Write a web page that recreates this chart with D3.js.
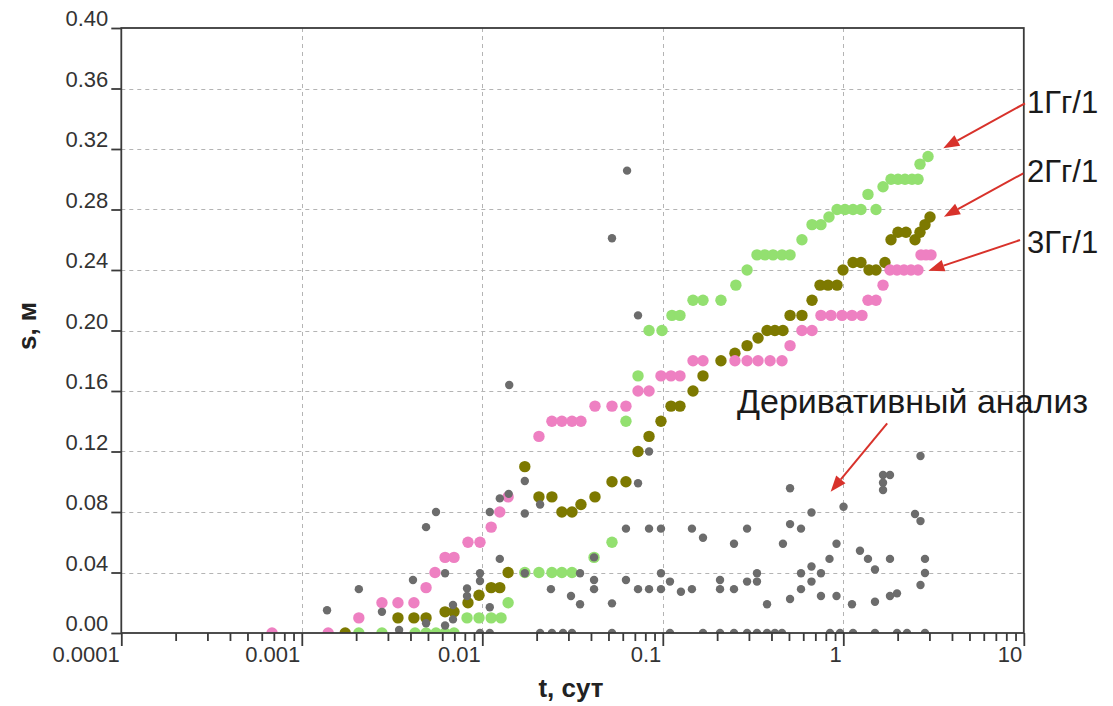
<!DOCTYPE html>
<html>
<head>
<meta charset="utf-8">
<script src="https://cdn.jsdelivr.net/npm/d3@7"></script>
<style>
  body { margin: 0; background: #fff; }
  svg text { font-family: "Liberation Sans", Arial, sans-serif; }
</style>
</head>
<body>
<svg id="chart" width="1113" height="706"></svg>
<script>
// Axis ticks
const xTickValues = [1e-4, 1e-3, 1e-2, 1e-1, 1, 10];
const xTickLabels = ["0.0001", "0.001", "0.01", "0.1", "1", "10"];
const yTickValues = [0, 0.04, 0.08, 0.12, 0.16, 0.20, 0.24, 0.28, 0.32, 0.36, 0.40];

// Drawdown s (m) vs time t (days), pairs [t, s]
const well1 = [ // 1Гг/1
  [0.00207,0],[0.00278,0],[0.00424,0],[0.00488,0],[0.00554,0],[0.00622,0],[0.00697,0],
  [0.00823,0.01],[0.00959,0.01],[0.0112,0.01],[0.0127,0.01],[0.0139,0.02],
  [0.0172,0.04],[0.0206,0.04],[0.0243,0.04],[0.0276,0.04],[0.0314,0.04],
  [0.0416,0.05],[0.0523,0.06],[0.0625,0.14],[0.0729,0.17],[0.0839,0.20],[0.099,0.20],
  [0.1124,0.21],[0.1245,0.21],[0.147,0.22],[0.167,0.22],[0.210,0.22],[0.254,0.23],
  [0.293,0.24],[0.3325,0.25],[0.368,0.25],[0.408,0.25],[0.4575,0.25],[0.507,0.25],
  [0.590,0.26],[0.671,0.27],[0.752,0.27],[0.833,0.275],[0.923,0.28],[1.022,0.28],
  [1.132,0.28],[1.253,0.28],[1.370,0.29],[1.518,0.28],[1.660,0.295],[1.838,0.30],
  [2.009,0.30],[2.197,0.30],[2.402,0.30],[2.594,0.30],[2.660,0.31],[2.947,0.315]
];
const well2 = [ // 2Гг/1
  [0.00174,0],[0.00341,0.01],[0.00418,0.01],[0.00488,0.01],[0.00622,0.014],[0.00697,0.014],
  [0.00833,0.02],[0.00959,0.025],[0.0112,0.03],[0.0125,0.03],[0.0139,0.04],[0.0172,0.11],
  [0.0206,0.09],[0.0243,0.09],[0.0276,0.08],[0.0314,0.08],[0.0352,0.085],[0.0421,0.09],
  [0.0523,0.10],[0.0625,0.10],[0.0729,0.12],[0.0839,0.13],[0.0977,0.14],[0.111,0.15],
  [0.1245,0.15],[0.147,0.16],[0.167,0.17],[0.210,0.18],[0.251,0.185],[0.293,0.19],
  [0.337,0.195],[0.378,0.20],[0.418,0.20],[0.463,0.20],[0.507,0.21],[0.590,0.21],
  [0.671,0.22],[0.743,0.23],[0.823,0.23],[0.923,0.23],[0.996,0.24],[1.132,0.245],
  [1.253,0.245],[1.388,0.24],[1.518,0.24],[1.702,0.245],[1.838,0.26],[2.009,0.265],
  [2.226,0.265],[2.496,0.26],[2.660,0.265],[2.835,0.27],[3.023,0.275]
];
const well3 = [ // 3Гг/1
  [0.000684,0],[0.0014,0],[0.00207,0.01],[0.00278,0.02],[0.00341,0.02],[0.00418,0.02],
  [0.00488,0.03],[0.00547,0.04],[0.00622,0.05],[0.00697,0.05],[0.00833,0.06],[0.00971,0.06],
  [0.0112,0.07],[0.0125,0.08],[0.0139,0.09],[0.0206,0.13],[0.0243,0.14],[0.0276,0.14],
  [0.0314,0.14],[0.0352,0.14],[0.0421,0.15],[0.0523,0.15],[0.0625,0.15],[0.0729,0.16],
  [0.0839,0.16],[0.0977,0.17],[0.111,0.17],[0.1245,0.17],[0.147,0.18],[0.167,0.18],
  [0.251,0.18],[0.293,0.18],[0.337,0.18],[0.393,0.18],[0.4575,0.18],[0.507,0.19],
  [0.590,0.20],[0.671,0.20],[0.752,0.21],[0.855,0.21],[0.984,0.21],[1.117,0.21],
  [1.269,0.21],[1.370,0.22],[1.518,0.22],[1.660,0.23],[1.814,0.24],[1.984,0.24],
  [2.169,0.24],[2.372,0.24],[2.594,0.24],[2.695,0.25],[2.872,0.25],[3.062,0.25]
];
const derivative = [ // Деривативный анализ
  [0.00138,0.015],[0.00207,0.029],[0.00278,0.014],[0.00346,0.002],[0.00413,0.035],
  [0.00488,0.070],[0.00554,0.080],[0.00488,0.0064],[0.00622,0.0395],[0.00622,0.005],
  [0.00688,0.0185],[0.00688,0.009],[0.00823,0.0295],[0.00823,0.0245],[0.00971,0.0395],
  [0.00971,0.0344],[0.0110,0.017],[0.0110,0.080],[0.0125,0.089],[0.0125,0.049],
  [0.0140,0.092],[0.0141,0.164],[0.0172,0.1005],[0.0172,0.079],[0.0209,0.085],
  [0.0172,0.0395],[0.0240,0.029],[0.0310,0.0245],[0.0348,0.019],[0.0348,0.0395],
  [0.0416,0.050],[0.0416,0.035],[0.0416,0.029],[0.0523,0.0196],[0.0625,0.069],
  [0.0625,0.035],[0.0729,0.099],[0.0729,0.029],[0.0839,0.12],[0.0839,0.069],
  [0.0839,0.029],[0.0977,0.069],[0.0977,0.0395],[0.0977,0.029],[0.1096,0.034],
  [0.126,0.0273],[0.145,0.069],[0.145,0.029],[0.167,0.063],[0.2075,0.035],
  [0.2075,0.029],[0.248,0.059],[0.248,0.029],[0.293,0.069],[0.293,0.034],
  [0.3325,0.0395],[0.3325,0.034],[0.378,0.019],[0.463,0.059],[0.507,0.0957],
  [0.507,0.072],[0.507,0.0225],[0.583,0.069],[0.583,0.0395],[0.583,0.029],
  [0.6665,0.0797],[0.6665,0.044],[0.6665,0.034],[0.752,0.0395],[0.752,0.0245],
  [0.8385,0.049],[0.917,0.059],[0.917,0.0245],[1.003,0.0835],[1.117,0.019],
  [1.237,0.0544],[1.370,0.049],[1.498,0.042],[1.498,0.0207],[1.660,0.1045],
  [1.814,0.1045],[1.660,0.0994],[1.660,0.0945],[1.814,0.049],[1.814,0.0245],
  [1.984,0.0262],[2.496,0.0787],[2.677,0.074],[2.677,0.117],[2.835,0.049],
  [2.835,0.0397],[2.677,0.0317],[0.0523,0.261],[0.0634,0.3057],[0.0729,0.21],
  [0.00971,0],[0.0110,0],[0.0209,0],[0.0243,0],[0.0280,0],[0.0314,0],[0.0523,0],
  [0.1096,0],[0.167,0],[0.2075,0],[0.248,0],[0.293,0],[0.3325,0],[0.378,0],
  [0.418,0],[0.4575,0],[0.844,0],[0.959,0],[1.132,0],[1.498,0],[1.984,0],
  [2.254,0],[2.835,0]
];

// Callouts: arrow tip and tail in data units, label text
const callouts = [
  { text: "1Гг/1", tip: [3.58, 0.3205], tail: [10.15, 0.3502], lx: 1027, ly: 113 },
  { text: "2Гг/1", tip: [3.61, 0.2752], tail: [9.93, 0.3039],  lx: 1027, ly: 182 },
  { text: "3Гг/1", tip: [2.96, 0.2395], tail: [9.53, 0.2598],  lx: 1027, ly: 253 },
  { text: "Деривативный анализ", tip: [0.851, 0.0934], tail: [1.75, 0.1386], lx: 737, ly: 413 }
];

const svg = d3.select("#chart");
const plotL = 121.3, plotR = 1023.8, plotT = 28, plotB = 633;

const x = d3.scaleLog().domain([1e-4, 10]).range([plotL, plotR]);
const y = d3.scaleLinear().domain([0, 0.4]).range([plotB, plotT]);

// Grid
const grid = svg.append("g").attr("stroke", "#b4b4b4").attr("stroke-width", 1)
  .attr("stroke-dasharray", "4,4");
grid.selectAll("line.h").data(yTickValues.slice(1, -1)).join("line")
  .attr("x1", plotL).attr("x2", plotR)
  .attr("y1", d => Math.round(y(d)) + 0.5).attr("y2", d => Math.round(y(d)) + 0.5);
grid.selectAll("line.v").data(xTickValues.slice(1, -1)).join("line")
  .attr("y1", plotT).attr("y2", plotB)
  .attr("x1", d => Math.round(x(d)) + 0.5).attr("x2", d => Math.round(x(d)) + 0.5);

// Points, clipped to the plot frame
svg.append("clipPath").attr("id", "plot-clip").append("rect")
  .attr("x", plotL).attr("y", plotT).attr("width", plotR - plotL).attr("height", plotB - plotT);
const pts = svg.append("g").attr("clip-path", "url(#plot-clip)");

function drawSeries(data, color, r) {
  pts.append("g").selectAll("circle").data(data).join("circle")
    .attr("cx", d => x(d[0])).attr("cy", d => y(d[1]))
    .attr("r", r).attr("fill", color);
}
drawSeries(well2, "#7d7900", 5.7);
drawSeries(well3, "#ee80c2", 5.7);
drawSeries(well1, "#93e070", 5.7);
drawSeries(derivative, "#6c6c6c", 4.2);

// Frame
svg.append("rect").attr("x", plotL).attr("y", plotT)
  .attr("width", plotR - plotL).attr("height", plotB - plotT)
  .attr("fill", "none").attr("stroke", "#3a3a3a").attr("stroke-width", 1.8);

// Y axis
const yAxis = d3.axisLeft(y).tickValues(yTickValues).tickSize(10).tickFormat(d3.format(".2f"));
const gy = svg.append("g").attr("transform", `translate(${plotL},0)`).call(yAxis);
gy.select(".domain").remove();
gy.selectAll(".tick line").attr("stroke", "#3a3a3a").attr("stroke-width", 1.8);
gy.selectAll(".tick text").attr("x", -13).attr("dy", "-0.1em")
  .attr("font-size", 22).attr("fill", "#333")
  .attr("font-family", "'Liberation Sans', Arial, sans-serif");

// X axis: major ticks with labels, minor ticks per decade
const minor = [];
for (let e = -4; e < 1; e++) for (let m = 2; m <= 9; m++) minor.push(m * Math.pow(10, e));
const gxMinor = svg.append("g").attr("transform", `translate(0,${plotB})`)
  .call(d3.axisBottom(x).tickValues(minor).tickSize(8).tickFormat(""));
gxMinor.select(".domain").remove();
gxMinor.selectAll(".tick line").attr("stroke", "#3a3a3a").attr("stroke-width", 1.8);

const gx = svg.append("g").attr("transform", `translate(0,${plotB})`)
  .call(d3.axisBottom(x).tickValues(xTickValues).tickSize(13)
    .tickFormat((d, i) => xTickLabels[i]));
gx.select(".domain").remove();
gx.selectAll(".tick line").attr("stroke", "#3a3a3a").attr("stroke-width", 1.8);
gx.selectAll(".tick text").attr("text-anchor", "end").attr("x", -2).attr("y", 13)
  .attr("font-size", 22).attr("fill", "#333")
  .attr("font-family", "'Liberation Sans', Arial, sans-serif");

// Axis titles
svg.append("text").attr("x", 571).attr("y", 697).attr("text-anchor", "middle")
  .attr("font-size", 26).attr("font-weight", "bold").attr("fill", "#222")
  .text("t, сут");
svg.append("text").attr("transform", "translate(36,326) rotate(-90)")
  .attr("text-anchor", "middle").attr("font-size", 26).attr("font-weight", "bold")
  .attr("fill", "#222").text("s, м");

// Callout arrows and labels
const red = "#d8322b";
const ann = svg.append("g");
callouts.forEach(c => {
  const x1 = x(c.tail[0]), y1 = y(c.tail[1]);
  const x2 = x(c.tip[0]), y2 = y(c.tip[1]);
  const ang = Math.atan2(y2 - y1, x2 - x1);
  const len = 16, half = 6;
  const bx = x2 - len * Math.cos(ang), by = y2 - len * Math.sin(ang);
  ann.append("line").attr("x1", x1).attr("y1", y1).attr("x2", bx).attr("y2", by)
    .attr("stroke", red).attr("stroke-width", 2);
  const p1 = [bx + half * Math.sin(ang), by - half * Math.cos(ang)];
  const p2 = [bx - half * Math.sin(ang), by + half * Math.cos(ang)];
  ann.append("path").attr("d", `M${x2},${y2}L${p1[0]},${p1[1]}L${p2[0]},${p2[1]}Z`)
    .attr("fill", red);
  ann.append("text").attr("x", c.lx).attr("y", c.ly)
    .attr("font-size", c.text.length > 8 ? 34 : 31).attr("fill", "#1a1a1a")
    .text(c.text);
});
</script>
</body>
</html>
